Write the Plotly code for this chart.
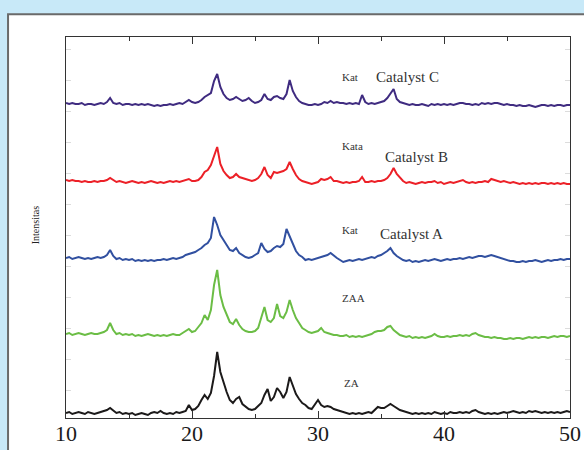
import numpy as np
import plotly.graph_objects as go

# 2-theta grid (degrees), sampled every 0.25 deg from 10 to 50
two_theta = np.linspace(10, 50, 161)

za = [5,6,4,5,6,5,4,6,5,4,5,6,7,8,10,7,5,6,4,5,
      4,5,3,4,5,4,3,5,6,5,7,5,4,5,4,6,5,6,7,13,
      8,9,12,18,23,19,25,42,66,46,35,26,18,15,19,21,14,11,9,8,
      9,12,15,23,29,17,21,30,26,20,26,41,32,24,19,15,13,10,9,14,
      18,13,11,12,11,9,8,7,6,5,4,5,4,5,4,5,6,5,8,11,
      10,10,12,14,12,10,8,7,6,5,4,5,4,5,4,5,4,6,5,4,
      5,4,6,5,5,6,5,6,5,7,8,6,5,4,5,4,5,4,5,6,
      5,6,7,6,5,6,5,7,6,7,6,5,6,5,6,5,6,5,6,7,
      6]

zaa = [6,7,5,6,7,6,5,6,7,6,6,7,8,10,17,10,6,7,5,6,
       5,6,4,5,4,5,6,5,4,5,4,5,4,5,6,5,5,7,9,11,
       8,9,13,17,25,20,30,55,70,45,33,25,18,16,21,15,11,9,8,8,
       9,12,22,33,20,18,22,36,24,22,28,40,30,22,17,12,10,8,7,8,
       9,12,8,7,6,5,5,4,4,5,3,4,3,4,3,4,5,6,8,9,
       9,10,13,14,10,7,5,4,3,4,2,3,2,3,2,3,4,6,4,3,
       3,4,3,4,4,5,4,5,4,6,7,5,4,3,3,2,3,2,2,1,
       1,2,1,2,2,1,2,3,2,3,2,3,3,2,3,4,3,4,4,3,
       4]

cat_a = [5,6,4,5,6,5,4,5,4,5,6,5,6,8,13,7,4,5,3,4,
         3,4,2,3,2,3,2,3,2,3,3,4,3,4,5,4,5,6,8,9,
         10,11,13,15,18,20,25,46,38,28,23,18,13,12,15,10,8,6,5,6,
         8,10,20,14,11,12,15,17,16,19,34,26,18,12,8,6,3,4,3,4,
         5,6,7,8,10,7,5,3,1,2,3,2,3,4,3,4,5,6,5,7,
         8,10,12,15,10,7,5,3,2,3,1,2,1,2,3,2,3,4,3,2,
         3,4,3,4,4,5,4,5,6,5,6,7,7,6,7,8,7,6,5,4,
         3,2,2,1,1,2,1,2,2,3,2,1,2,3,2,3,3,4,3,4,
         4]

cat_b = [6,5,6,5,5,4,5,4,4,5,4,5,5,6,8,6,4,5,4,3,
         4,5,4,3,4,3,4,5,4,3,4,3,4,5,4,5,4,5,6,7,
         5,5,6,9,14,16,21,30,39,22,15,11,8,9,12,9,8,7,6,5,
         6,8,12,19,11,8,14,13,14,15,17,24,17,11,7,5,4,3,2,3,
         4,7,6,7,9,5,5,4,3,4,3,4,4,5,9,4,4,5,4,5,
         5,6,8,12,18,12,8,5,3,4,3,2,3,4,3,4,4,5,3,4,
         2,3,4,3,4,5,6,4,3,4,3,4,4,5,4,7,6,5,4,5,
         4,3,4,3,2,3,2,3,2,3,2,3,3,2,3,2,3,2,3,2,
         2]

cat_c = [6,5,6,5,5,6,4,5,5,4,5,6,5,7,11,6,5,6,4,5,
         5,4,5,4,5,4,5,4,3,4,3,4,4,5,4,5,6,5,7,9,
         7,6,7,9,12,14,16,28,35,22,15,11,9,10,12,10,8,9,11,8,
         6,7,9,15,10,9,12,13,11,10,15,29,18,12,8,6,5,4,4,5,
         4,5,7,6,8,6,7,6,6,5,6,5,6,5,14,7,5,6,5,6,
         7,8,11,16,20,10,7,6,5,4,5,4,4,5,4,3,5,4,5,4,
         5,4,5,4,5,6,6,5,5,4,5,4,6,5,6,5,6,6,5,4,
         5,4,4,3,4,3,3,4,3,2,3,4,4,3,4,3,4,4,3,4,
         4]

series_names = ["ZA", "ZAA", "Catalyst A", "Catalyst B", "Catalyst C"]
series_values = [za, zaa, cat_a, cat_b, cat_c]
stack_offsets = [0, 78, 155, 232, 309]
colors = ["#1c1a1a", "#6bbd45", "#3150a0", "#ec2027", "#3f2b80"]

x_ticks = [10, 20, 30, 40, 50]
x_tick_labels = ["10", "20", "30", "40", "50"]

fig = go.Figure()
for name, vals, off, col in zip(series_names, series_values, stack_offsets, colors):
    fig.add_trace(go.Scatter(
        x=two_theta, y=np.array(vals) + off, mode="lines", name=name,
        line=dict(color=col, width=2), showlegend=False))

serif = "Liberation Serif"
ann = []
small_labels = [("Kat", 31.75, 341), ("Kata", 31.75, 272), ("Kat", 31.75, 188),
                ("ZAA", 31.75, 120), ("ZA", 31.9, 35)]
for t, x, y in small_labels:
    ann.append(dict(x=x, y=y, text=t, showarrow=False, xanchor="left", yanchor="middle",
                    font=dict(family=serif, size=11, color="#333")))
big_labels = [("Catalyst C", 34.44, 341), ("Catalyst B", 35.16, 261), ("Catalyst A", 34.76, 184)]
for t, x, y in big_labels:
    ann.append(dict(x=x, y=y, text=t, showarrow=False, xanchor="left", yanchor="middle",
                    font=dict(family=serif, size=15, color="#333")))
for v, t in zip(x_ticks, x_tick_labels):
    ann.append(dict(x=v, y=-0.041, xref="x", yref="paper", text=t, showarrow=False,
                    xanchor="center", yanchor="middle",
                    font=dict(family=serif, size=22, color="#1a1a1a")))
ann.append(dict(x=-0.0755, y=0.507, xref="paper", yref="paper", text="Intensitas",
                textangle=-90, showarrow=False, font=dict(family=serif, size=10, color="#222")))

fig.update_layout(
    width=584, height=450,
    margin=dict(l=66, r=14, t=37, b=32),
    paper_bgcolor="#c8e9f8",
    plot_bgcolor="white",
    annotations=ann,
    shapes=[dict(type="rect", xref="paper", yref="paper",
                 x0=-0.115, x1=1.1, y0=-0.2, y1=1.06,
                 fillcolor="white", line=dict(color="#6a6a6a", width=2), layer="below")],
    xaxis=dict(range=[10, 50], tickvals=x_ticks, showticklabels=False, ticks="inside", ticklen=7,
               tickcolor="#333", showline=True, linecolor="#333", linewidth=1,
               mirror="ticks", showgrid=False, zeroline=False, automargin=False,
               minor=dict(dtick=5, tick0=10, ticks="inside", ticklen=4, tickcolor="#333")),
    yaxis=dict(range=[0, 381], showticklabels=False, ticks="inside", tick0=28, dtick=31,
               ticklen=5, tickcolor="#dcdcdc", showline=True, linecolor="#333", linewidth=1,
               mirror="ticks", showgrid=False, zeroline=False, automargin=False),
)

fig.write_html("out.html", config={"displayModeBar": False},
               post_script="document.documentElement.style.margin='0';"
                           "document.documentElement.style.overflow='hidden';"
                           "document.body.style.margin='0';"
                           "document.body.style.overflow='hidden';"
                           "document.body.style.background='white';")
